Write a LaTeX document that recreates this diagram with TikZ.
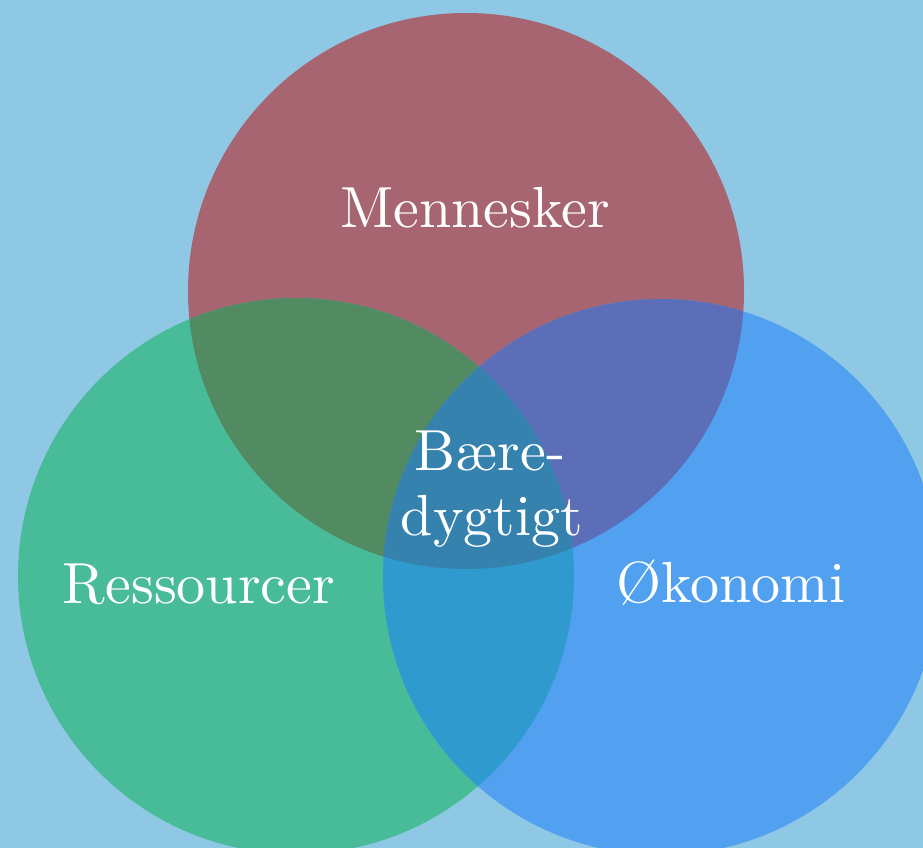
\documentclass[tikz,border=0pt]{standalone}
\definecolor{bg}{RGB}{143,200,229}
\definecolor{cred}{RGB}{167,100,113}
\definecolor{cgreen}{RGB}{72,187,153}
\definecolor{cblue}{RGB}{81,161,240}
\definecolor{crg}{RGB}{82,138,98}
\definecolor{crb}{RGB}{93,110,185}
\definecolor{cgb}{RGB}{46,154,205}
\definecolor{crgb}{RGB}{52,130,173}
\begin{document}
\begin{tikzpicture}[x=1pt,y=-1pt,
  lbl/.style={text=white,font=\fontsize{10}{12}\selectfont,scale=5.8,inner sep=0pt,anchor=base}]
\useasboundingbox (0,0) rectangle (923,848);
\fill[bg] (0,0) rectangle (923,848);
\def\rr{278}
\coordinate (top) at (466,291);
\coordinate (lft) at (296,576);
\coordinate (rgt) at (661,577);
\fill[cred] (top) circle[radius=\rr];
\fill[cgreen] (lft) circle[radius=\rr];
\fill[cblue] (rgt) circle[radius=\rr];
\begin{scope}
  \clip (top) circle[radius=\rr];
  \fill[crg] (lft) circle[radius=\rr];
  \fill[crb] (rgt) circle[radius=\rr];
\end{scope}
\begin{scope}
  \clip (lft) circle[radius=\rr];
  \fill[cgb] (rgt) circle[radius=\rr];
  \clip (top) circle[radius=\rr];
  \fill[crgb] (rgt) circle[radius=\rr];
\end{scope}
\node[lbl] (men) at (475,227) {Mennesker};
\node[lbl] (res) at (199,603) {Ressourcer};
\node[lbl] (oko) at (731,602) {Økonomi};
\node[lbl] (b1) at (490,470) {Bære-};
\node[lbl] (b2) at (492,535) {dygtigt};
\end{tikzpicture}
\end{document}
